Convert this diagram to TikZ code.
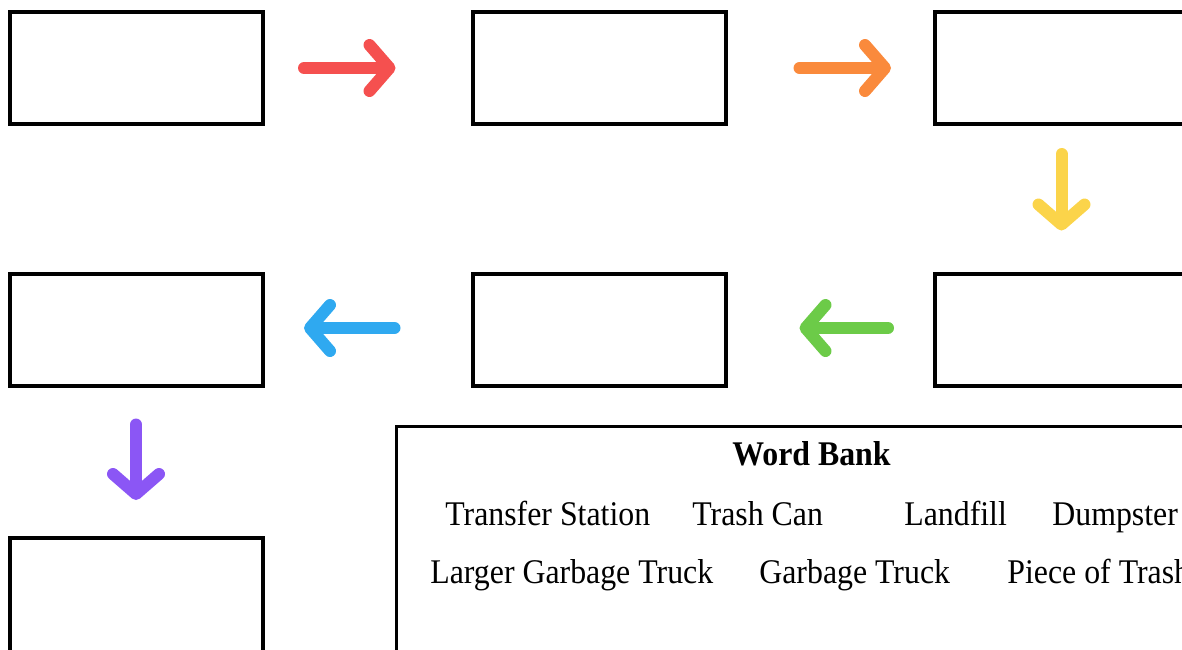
\documentclass[tikz,border=0pt]{standalone}
\usepackage{fontspec}
\setmainfont{Liberation Serif}
\usetikzlibrary{arrows.meta,calc}

\definecolor{redA}{HTML}{F5504F}
\definecolor{orangeA}{HTML}{FA8A3C}
\definecolor{yellowA}{HTML}{FBD44A}
\definecolor{greenA}{HTML}{6CCB48}
\definecolor{blueA}{HTML}{2FA9F0}
\definecolor{purpleA}{HTML}{8B56F5}

\tikzset{
  blank/.style={draw, line width=2pt, minimum width=126.5pt, minimum height=56pt, inner sep=0pt},
  flow/.style={line width=6pt, line cap=round,
    -{Straight Barb[length=10pt,width=23pt,line cap=round,line join=round]}},
  word/.style={font=\fontsize{17.3}{20}\selectfont, xscale=0.92, inner sep=0pt, anchor=base west},
}

\begin{document}
\begin{tikzpicture}[x=0.5pt,y=-0.5pt]
    \useasboundingbox (0,0) rectangle (1182,649);
    \clip (0,0) rectangle (1182,649);
    % the blanks to fill in
    \node[blank] at (136.5,68) (b1) {};
    \node[blank] at (599,68) (b2) {};
    \node[blank, minimum width=127.5pt] at (1062.5,68) (b3) {};
    \node[blank] at (136.5,329.5) (b4) {};
    \node[blank] at (599,329.5) (b5) {};
    \node[blank, minimum width=127.5pt] at (1062.5,329.5) (b6) {};
    \node[blank, minimum height=61pt] at (136.5,599) (b7) {};
    % arrows
    \draw[flow, redA] ($(b1.east)+(39,0)$) -- ($(b2.west)+(-75,0)$);
    \draw[flow, orangeA] ($(b2.east)+(72,0)$) -- ($(b3.west)+(-42,0)$);
    \draw[flow, yellowA] ($(b3.south)+(-1,28)$) -- ($(b6.north)+(-1,-41)$);
    \draw[flow, greenA] ($(b6.west)+(-45,-1.5)$) -- ($(b5.east)+(72,-1.5)$);
    \draw[flow, blueA] ($(b5.west)+(-76,-1.5)$) -- ($(b4.east)+(39,-1.5)$);
    \draw[flow, purpleA] ($(b4.south)+(-0.5,37)$) -- ($(b7.north)+(-0.5,-36)$);
    % word bank
    \node[draw, line width=1.5pt, minimum width=410pt, minimum height=125pt, anchor=north west] at (395,425) (bank) {};
    \node[word, font=\fontsize{17.3}{20}\selectfont\bfseries, anchor=base] at (811.5,465) (title) {Word Bank};
    \node[word] at (445,525) (w1) {Transfer Station};
    \node[word] at (692,525) (w2) {Trash Can};
    \node[word] at (904,525) (w3) {Landfill};
    \node[word] at (1052,525) (w4) {Dumpster};
    \node[word] at (430,583) (w5) {Larger Garbage Truck};
    \node[word] at (759,583) (w6) {Garbage Truck};
    \node[word] at (1007,583) (w7) {Piece of Trash};
\end{tikzpicture}
\end{document}
